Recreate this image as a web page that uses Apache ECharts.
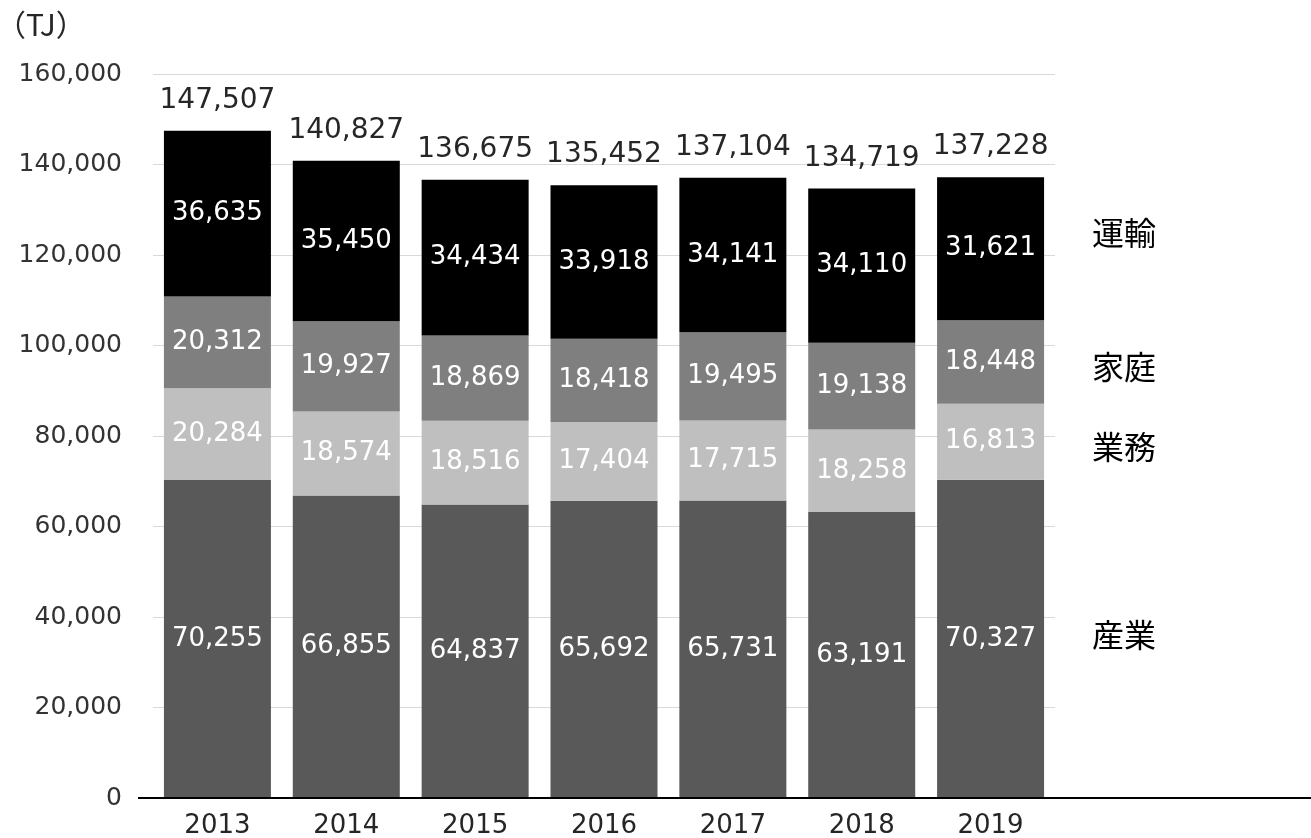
<!DOCTYPE html>
<html><head><meta charset="utf-8">
<script src="https://cdn.jsdelivr.net/npm/echarts@6/dist/echarts.min.js"></script>
<style>html,body{margin:0;padding:0;background:#fff}#c{width:1311px;height:838px}</style>
</head><body><div id="c"></div>
<script>
const categories = ['2013','2014','2015','2016','2017','2018','2019'];
const sangyo = [70255, 66855, 64837, 65692, 65731, 63191, 70327];
const gyomu  = [20284, 18574, 18516, 17404, 17715, 18258, 16813];
const katei  = [20312, 19927, 18869, 18418, 19495, 19138, 18448];
const unyu   = [36635, 35450, 34434, 33918, 34141, 34110, 31621];
const totals = [147507, 140827, 136675, 135452, 137104, 134719, 137228];
const seriesNames = ['産業','業務','家庭','運輸'];
const yTicks = [0, 20000, 40000, 60000, 80000, 100000, 120000, 140000, 160000];
const unitName = '（TJ）';

const fmt = v => Number(v).toLocaleString('en-US');
const numFont = 'DejaVu Sans';
const inLabel = {show:true, position:'inside', color:'#fff', fontFamily:numFont, fontSize:26, formatter:p=>fmt(p.value)};

const chart = echarts.init(document.getElementById('c'));
const colors = ['#595959','#bfbfbf','#7f7f7f','#000000'];
const datas = [sangyo, gyomu, katei, unyu];
const series = datas.map((d,i)=>({
  name: seriesNames[i], type:'bar', stack:'total', data:d, barWidth:107,
  itemStyle:{color:colors[i]}, label:inLabel
}));
series.push({
  name:'合計', type:'bar', data:totals, barWidth:107, barGap:'-100%', z:1,
  itemStyle:{color:'rgba(0,0,0,0)'},
  label:{show:true, position:'top', distance:16, color:'#262626', fontFamily:numFont, fontSize:28, formatter:p=>fmt(p.value)}
});
chart.setOption({
  animation:false,
  grid:{left:153, right:256, top:74, bottom:40, containLabel:false, outerBoundsMode:'none'},
  xAxis:{type:'category', data:categories,
    axisLine:{show:false}, axisTick:{show:false},
    axisLabel:{color:'#262626', fontFamily:numFont, fontSize:26, margin:15}},
  yAxis:{type:'value', min:yTicks[0], max:yTicks[yTicks.length-1], interval:20000,
    axisLine:{show:false}, axisTick:{show:false},
    splitLine:{lineStyle:{color:'#d9d9d9', width:1}},
    axisLabel:{color:'#333', fontFamily:numFont, fontSize:25, margin:31, formatter:v=>fmt(v)}},
  series: series
});
const y0 = chart.convertToPixel({yAxisIndex:0}, 0);
const last = categories.length-1;
let cum = 0;
const ys = datas.map(d=>{ const c = chart.convertToPixel({yAxisIndex:0}, cum + d[last]/2); cum += d[last]; return c; });
const yOff = [-4, 5, 5, -16];
const graphic = [
  {type:'line', shape:{x1:138, y1:y0, x2:1311, y2:y0}, style:{stroke:'#000', lineWidth:2}, z:10},
  {type:'text', x:-4, y:25, style:{text:unitName, fontSize:30, fontFamily:'Noto Sans CJK JP', fill:'#262626', verticalAlign:'middle'}}
];
seriesNames.forEach((n,i)=>{
  graphic.push({type:'text', x:1092, y:ys[i]+yOff[i], style:{text:n, fontSize:32, fontFamily:'Noto Sans CJK JP', fill:'#000', verticalAlign:'middle'}});
});
chart.setOption({graphic});
</script></body></html>
